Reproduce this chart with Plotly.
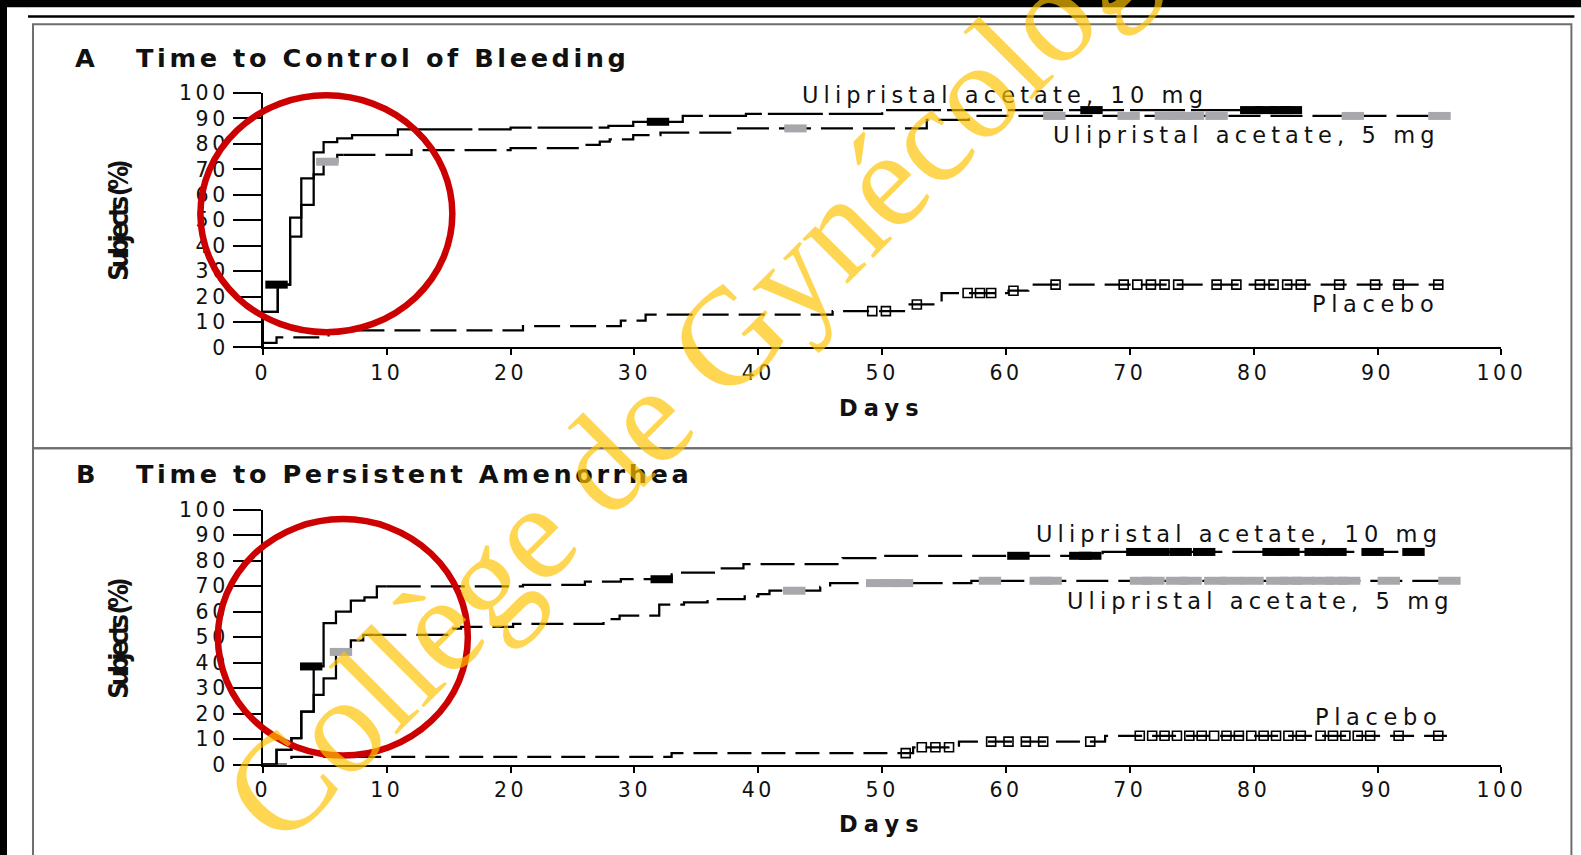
import plotly.graph_objects as go

W, H = 1581, 855

# ---------------- data (days, cumulative % of subjects) ----------------
X_TICKS = [0, 10, 20, 30, 40, 50, 60, 70, 80, 90, 100]
Y_TICKS = [0, 10, 20, 30, 40, 50, 60, 70, 80, 90, 100]
X_TICK_LABELS = ["0", "10", "20", "30", "40", "50", "60", "70", "80", "90", "100"]
Y_TICK_LABELS = ["0", "10", "20", "30", "40", "50", "60", "70", "80", "90", "100"]

# Panel A - Time to control of bleeding
a10_t = [0, 0, 1.2, 2.2, 3.1, 4.1, 4.9, 6.0, 7.2, 10.9, 20.0, 27.9, 29.9, 33.9, 39.0, 50.0, 83.4]
a10_y = [0, 14.0, 24.7, 51.0, 66.5, 76.7, 80.7, 82.2, 83.5, 85.7, 86.4, 87.1, 88.7, 91.0, 91.8, 93.3, 93.3]
a10_cens_t = [1.1, 31.9, 66.9, 79.8, 81.0, 82.2, 83.0]
a10_cens_y = [24.7, 88.7, 93.3, 93.3, 93.3, 93.3, 93.3]

a5_t = [0, 0, 1.2, 2.2, 3.1, 4.1, 4.9, 6.0, 12.0, 20.0, 26.0, 27.2, 28.0, 29.9, 32.1, 38.1, 53.6, 57.0, 95.6]
a5_y = [0, 14.0, 24.7, 43.6, 56.0, 68.0, 73.0, 75.7, 77.6, 78.3, 79.6, 80.9, 81.8, 83.5, 84.4, 86.1, 89.4, 91.0, 91.0]
a5_cens_t = [5.2, 43.0, 63.9, 69.9, 72.9, 74.1, 75.1, 77.0, 88.0, 95.0]
a5_cens_y = [73.0, 86.1, 91.0, 91.0, 91.0, 91.0, 91.0, 91.0, 91.0, 91.0]

apl_t = [0, 0, 1.1, 5.3, 21.0, 28.9, 30.9, 46.0, 52.0, 54.8, 60.2, 61.8, 95.2]
apl_y = [0, 1.8, 4.0, 6.7, 8.4, 10.6, 12.9, 14.3, 16.9, 21.4, 22.3, 24.7, 24.7]
apl_cens_t = [49.2, 50.3, 52.8, 56.9, 57.9, 58.8, 60.6, 64.0, 69.5, 70.6, 71.7, 72.8, 73.9,
              77.0, 78.6, 80.5, 81.6, 82.7, 83.8, 86.9, 89.8, 91.7, 94.9]
apl_cens_y = [14.3, 14.3, 16.9, 21.4, 21.4, 21.4, 22.3, 24.7, 24.7, 24.7, 24.7, 24.7, 24.7,
              24.7, 24.7, 24.7, 24.7, 24.7, 24.7, 24.7, 24.7, 24.7, 24.7]

# Panel B - Time to persistent amenorrhea
b10_t = [0, 1.1, 2.3, 3.1, 4.1, 4.9, 5.9, 7.1, 8.2, 9.2, 21.0, 26.0, 28.9, 33.0, 36.9, 38.8, 46.8, 50.0, 67.8, 93.6]
b10_y = [0, 5.8, 10.4, 20.8, 38.5, 55.5, 60.0, 64.3, 65.6, 69.9, 70.5, 71.8, 72.7, 75.3, 77.0, 78.6, 81.0, 81.9, 83.4, 83.4]
b10_cens_t = [3.9, 32.2, 61.0, 66.0, 66.8, 70.6, 72.3, 74.1, 76.0, 81.6, 82.8, 85.0, 86.6, 89.6, 92.9]
b10_cens_y = [38.5, 72.7, 81.9, 81.9, 81.9, 83.4, 83.4, 83.4, 83.4, 83.4, 83.4, 83.4, 83.4, 83.4, 83.4]

b5_t = [0, 1.1, 2.3, 3.1, 4.1, 4.9, 5.9, 7.1, 8.1, 15.2, 16.0, 20.2, 27.5, 28.8, 32.0, 34.0, 35.9,
        38.9, 40.0, 40.9, 45.0, 45.8, 57.2, 96.6]
b5_y = [0, 5.8, 10.4, 20.8, 27.3, 33.8, 44.2, 48.7, 50.9, 53.3, 54.0, 55.2, 57.1, 58.4, 62.7, 63.6, 64.9,
        66.0, 66.9, 68.2, 69.7, 71.2, 72.1, 72.1]
b5_cens_t = [6.3, 42.9, 49.6, 50.6, 51.6, 58.7, 62.8, 63.6, 70.9, 71.9, 73.8, 74.9, 76.9, 78.2, 79.9,
             81.9, 83.0, 84.0, 85.6, 86.7, 87.7, 90.9, 95.8]
b5_cens_y = [44.2, 68.2, 71.2, 71.2, 71.2, 72.1, 72.1, 72.1, 72.1, 72.1, 72.1, 72.1, 72.1, 72.1, 72.1,
             72.1, 72.1, 72.1, 72.1, 72.1, 72.1, 72.1, 72.1]

bpl_t = [0, 2.3, 33.0, 52.5, 56.2, 68.0, 95.6]
bpl_y = [0, 3.0, 4.5, 6.8, 9.0, 11.3, 11.3]
bpl_cens_t = [51.9, 53.2, 54.3, 55.4, 58.8, 60.2, 61.6, 63.0, 66.8, 70.8, 71.8, 72.8, 73.8, 74.8, 75.8,
              76.8, 77.8, 78.8, 79.8, 80.8, 81.8, 82.8, 83.8, 85.4, 86.4, 87.4, 88.4, 89.4, 91.7, 94.9]
bpl_cens_y = [4.5, 6.8, 6.8, 6.8, 9.0, 9.0, 9.0, 9.0, 9.0, 11.3, 11.3, 11.3, 11.3, 11.3, 11.3,
              11.3, 11.3, 11.3, 11.3, 11.3, 11.3, 11.3, 11.3, 11.3, 11.3, 11.3, 11.3, 11.3, 11.3, 11.3]

# ---------------- placement helpers ----------------
# the photographed page comes out slightly reduced and offset; positions below are
# given in reference-picture pixels and converted back to page pixels here.
SX, OX = 0.9795, 8.0
SY, OY = 0.974, 10.8
K = 1 / 0.977  # size compensation


def px(x):
    return ((x - OX) / SX) / W


def py(y):
    return 1 - ((y - OY) / SY) / H


def fs(s):
    return round(s * K, 1)


def sp(text, spacing):
    return '<span style="letter-spacing:%spx">%s</span>' % (round(spacing * K, 2), text)


GRAY = "#a8a8ac"
LW = 2.2 * K
fig = go.Figure()


def step_traces(t, y, split, dash, xa, ya):
    ts, ys, td, yd = [], [], [], []
    for ti, yi in zip(t, y):
        if ti <= split:
            ts.append(ti)
            ys.append(yi)
        else:
            td.append(ti)
            yd.append(yi)
    ts = ts + [split]
    ys = ys + [ys[-1]]
    td = [split] + td
    yd = [ys[-1]] + yd
    fig.add_trace(go.Scatter(x=ts, y=ys, mode="lines", line=dict(color="black", width=LW, shape="hv"),
                             xaxis=xa, yaxis=ya, showlegend=False, hoverinfo="skip"))
    fig.add_trace(go.Scatter(x=td, y=yd, mode="lines",
                             line=dict(color="black", width=LW, shape="hv", dash=dash),
                             xaxis=xa, yaxis=ya, showlegend=False, hoverinfo="skip"))


def filled_marks(t, y, color, xa, ya):
    fig.add_trace(go.Scatter(x=t, y=y, mode="markers",
                             marker=dict(symbol="line-ew", size=16, color=color,
                                         line=dict(color=color, width=8)),
                             xaxis=xa, yaxis=ya, showlegend=False, hoverinfo="skip", cliponaxis=False))


def open_marks(t, y, xa, ya):
    fig.add_trace(go.Scatter(x=t, y=y, mode="markers",
                             marker=dict(symbol="square", size=9, color="white",
                                         line=dict(color="black", width=1.6)),
                             xaxis=xa, yaxis=ya, showlegend=False, hoverinfo="skip", cliponaxis=False))


# Panel A
open_marks(apl_cens_t, apl_cens_y, "x", "y")
step_traces(apl_t, apl_y, 0, "26px,10px", "x", "y")
step_traces(a5_t, a5_y, 6.5, "32px,10px", "x", "y")
step_traces(a10_t, a10_y, 8.0, "55px,6px", "x", "y")
filled_marks(a5_cens_t, a5_cens_y, GRAY, "x", "y")
filled_marks(a10_cens_t, a10_cens_y, "black", "x", "y")

# Panel B
open_marks(bpl_cens_t, bpl_cens_y, "x2", "y2")
step_traces(bpl_t, bpl_y, 0, "24px,10px", "x2", "y2")
step_traces(b5_t, b5_y, 9.0, "32px,10px", "x2", "y2")
step_traces(b10_t, b10_y, 10.0, "34px,10px", "x2", "y2")
filled_marks(b5_cens_t, b5_cens_y, GRAY, "x2", "y2")
filled_marks(b10_cens_t, b10_cens_y, "black", "x2", "y2")

TICKFONT = dict(family="DejaVu Sans", size=fs(20), color="#111")
xcommon = dict(range=[0, 100], tickmode="array", tickvals=X_TICKS,
               ticktext=[sp(s, 3.5) for s in X_TICK_LABELS],
               showline=True, linecolor="black", linewidth=2, ticks="outside", ticklen=6,
               tickwidth=2, tickcolor="black", showgrid=False, zeroline=False, tickfont=TICKFONT,
               domain=[px(263), px(1502)], fixedrange=True)
ycommon = dict(range=[0, 100], tickmode="array", tickvals=Y_TICKS,
               ticktext=[sp(s, 3.5) for s in Y_TICK_LABELS],
               showline=True, linecolor="black", linewidth=2, ticks="outside", ticklen=28,
               tickwidth=2, tickcolor="black", showgrid=False, zeroline=False, tickfont=TICKFONT,
               fixedrange=True)

annotations = []


def ann(text, x, y, size, bold=False, spacing=0, xanchor="center", family="DejaVu Sans",
        angle=0, color="#111"):
    t = sp(text, spacing) if spacing else text
    if bold:
        t = "<b>" + t + "</b>"
    annotations.append(dict(text=t, x=px(x), y=py(y), xref="paper", yref="paper", showarrow=False,
                            xanchor=xanchor, yanchor="middle", textangle=angle,
                            font=dict(family=family, size=fs(size), color=color)))


# titles
ann("A", 73, 57, 25, bold=True, xanchor="left")
ann("Time to Control of Bleeding", 134, 57, 25, bold=True, spacing=3.5, xanchor="left")
ann("B", 74, 474, 25, bold=True, xanchor="left")
ann("Time to Persistent Amenorrhea", 134, 474, 25, bold=True, spacing=3.5, xanchor="left")

# axis titles
ann("Days", 882, 408, 22, bold=True, spacing=6)
ann("Days", 882, 825, 22, bold=True, spacing=6)
ann("Subjects (%)", 119, 220, 26, bold=True, spacing=-4.3, family="DejaVu Sans Condensed, DejaVu Sans",
    angle=-90)
ann("Subjects (%)", 119, 639, 26, bold=True, spacing=-4.3, family="DejaVu Sans Condensed, DejaVu Sans",
    angle=-90)

# curve labels
ann("Ulipristal acetate, 10 mg", 1005, 94, 22, spacing=5)
ann("Ulipristal acetate, 5 mg", 1247, 134, 22, spacing=5)
ann("Placebo", 1376, 303, 22, spacing=5.5)
ann("Ulipristal acetate, 10 mg", 1239, 534, 22, spacing=5)
ann("Ulipristal acetate, 5 mg", 1261, 601, 22, spacing=5)
ann("Placebo", 1379, 717, 22, spacing=5.5)

# watermark
annotations.append(dict(text="Collège de Gynécologie", x=px(720), y=py(345), xref="paper", yref="paper",
                        showarrow=False, xanchor="center", yanchor="middle", textangle=-45,
                        font=dict(family="Liberation Serif", size=fs(135), color="rgba(255,195,0,0.68)")))

shapes = []


def rect(x0, y0, x1, y1, fill=None, line=None, lw=0, layer="above"):
    s = dict(type="rect", xref="paper", yref="paper", x0=px(x0), x1=px(x1), y0=py(y1), y1=py(y0),
             layer=layer)
    if fill:
        s["fillcolor"] = fill
    s["line"] = dict(color=line or "rgba(0,0,0,0)", width=lw)
    shapes.append(s)


BOX = "#6e6e6e"
rect(-5, -5, W + 5, 6, fill="black")
rect(28, 14, 1575, 16.5, fill="black")
rect(-5, -5, 7, H + 5, fill="black")
rect(33, 23, 1572, 448, line=BOX, lw=2, layer="below")
rect(33, 448, 1572, H + 20, line=BOX, lw=2, layer="below")

RED = "#cc0000"
for (x0, y0, x1, y1) in [(200.5, 94.3, 452.5, 331.7), (218, 519, 468, 756)]:
    shapes.append(dict(type="circle", xref="paper", yref="paper", x0=px(x0), x1=px(x1), y0=py(y1), y1=py(y0),
                       line=dict(color=RED, width=6.5), layer="above"))

fig.update_layout(
    width=W, height=H, margin=dict(l=0, r=0, t=0, b=0),
    paper_bgcolor="white", plot_bgcolor="white",
    xaxis=dict(**xcommon, anchor="y"),
    yaxis=dict(**ycommon, anchor="x", domain=[py(347), py(92)]),
    xaxis2=dict(**xcommon, anchor="y2"),
    yaxis2=dict(**ycommon, anchor="x2", domain=[py(765), py(509.5)]),
    annotations=annotations, shapes=shapes, showlegend=False,
)

fig.write_html("out.html")
